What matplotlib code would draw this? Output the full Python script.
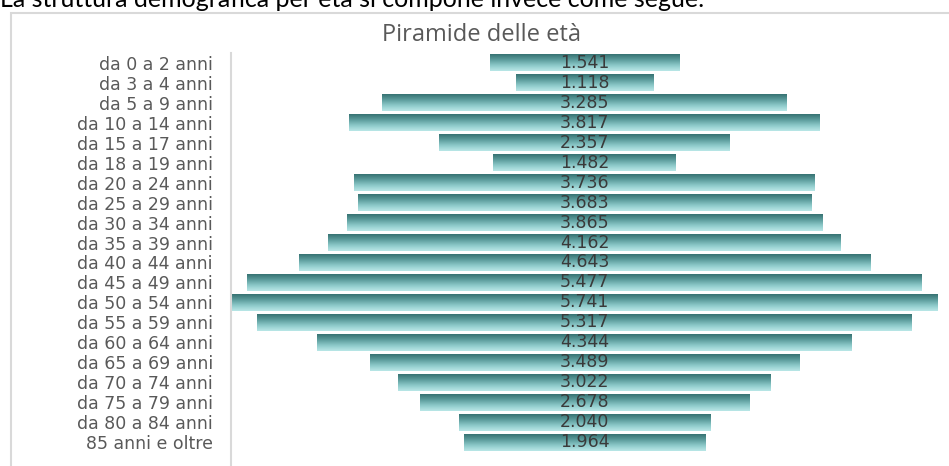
import numpy as np
import matplotlib
matplotlib.use("Agg")
import matplotlib.pyplot as plt
from matplotlib.colors import LinearSegmentedColormap
from matplotlib.patches import Rectangle

categories = ["da 0 a 2 anni", "da 3 a 4 anni", "da 5 a 9 anni", "da 10 a 14 anni",
              "da 15 a 17 anni", "da 18 a 19 anni", "da 20 a 24 anni", "da 25 a 29 anni",
              "da 30 a 34 anni", "da 35 a 39 anni", "da 40 a 44 anni", "da 45 a 49 anni",
              "da 50 a 54 anni", "da 55 a 59 anni", "da 60 a 64 anni", "da 65 a 69 anni",
              "da 70 a 74 anni", "da 75 a 79 anni", "da 80 a 84 anni", "85 anni e oltre"]
values = [1541, 1118, 3285, 3817, 2357, 1482, 3736, 3683, 3865, 4162,
          4643, 5477, 5741, 5317, 4344, 3489, 3022, 2678, 2040, 1964]
title = "Piramide delle età"
doc_text = "La struttura demografica per età si compone invece come segue:"

W, H = 949, 466
fig = plt.figure(figsize=(W / 100, H / 100), dpi=100)
fig.patch.set_facecolor("white")

# document text (cut at top in the reference) and chart frame
fig.text(0.0, 1 - 7 / H, doc_text, fontsize=18, family="Lato", color="black",
         va="baseline", ha="left")
frame = Rectangle((11 / W, -0.1), 1.2, 1 - 13 / H + 0.1, transform=fig.transFigure,
                  fill=False, edgecolor="#d9d9d9", linewidth=1.5)
fig.add_artist(frame)

fig.text(482 / W, 1 - 41 / H, title, fontsize=17, family="Open Sans", color="#595959",
         ha="center", va="baseline")

ax = fig.add_axes([231 / W, 0, (938 - 231) / W, (H - 53) / H])
vmax = max(values)
y = np.arange(len(values))
vals = np.array(values, dtype=float)
bars = ax.barh(y, vals, left=-vals / 2, height=0.85, color="none", edgecolor="none")

cmap = LinearSegmentedColormap.from_list("teal", ["#377272", "#5c9c9c", "#8cc9c9", "#b9e7e7"])
grad = np.linspace(0, 1, 64).reshape(-1, 1)
for p in bars.patches:
    x0, y0, w, h = p.get_x(), p.get_y(), p.get_width(), p.get_height()
    im = ax.imshow(grad, cmap=cmap, aspect="auto", extent=[x0, x0 + w, y0 + h, y0],
                   origin="upper", zorder=2, interpolation="bilinear")
    im.set_clip_path(p)

for yi, v in zip(y, values):
    ax.text(0, yi, f"{v:,}".replace(",", "."), ha="center", va="center",
            fontsize=12.5, color="#3a3a3a", family="DejaVu Sans", zorder=3)

ax.set_xlim(-vmax / 2, vmax / 2)
ax.set_ylim(-0.5 + (H - 53) / 19.95, -0.5)
ax.set_yticks(y)
ax.set_yticklabels(categories, fontsize=12.5, color="#595959", family="DejaVu Sans")
ax.tick_params(axis="y", length=0, pad=13)
ax.set_xticks([])
for s in ["top", "right", "bottom"]:
    ax.spines[s].set_visible(False)
ax.spines["left"].set_color("#d9d9d9")
ax.spines["left"].set_linewidth(1.5)
ax.set_facecolor("none")

fig.savefig("out.png", dpi=100)
